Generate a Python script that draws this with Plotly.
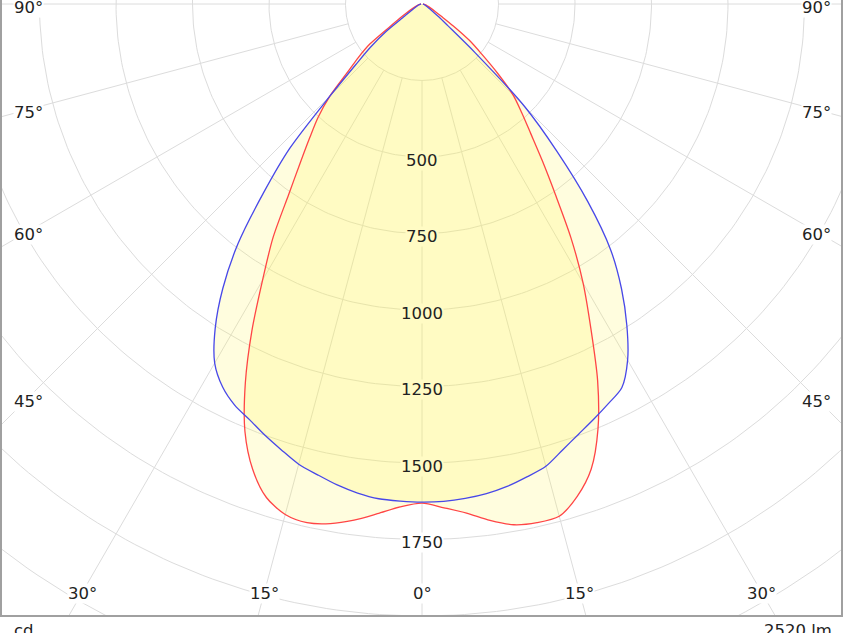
import numpy as np
import plotly.graph_objects as go

# ---------------- data (luminous intensity in cd vs. angle from nadir) ----------------
gamma_deg = [0, 2.5, 5, 7.5, 10, 12.5, 15, 17.5, 20, 22.5, 25, 27.5, 30, 32.5, 35,
             37.5, 40, 42.5, 45, 47.5, 50, 52.5, 55, 57.5, 60, 65, 70, 75, 80, 85, 90]

# C0 / C180 plane (red)
red_right = [1631, 1648, 1670, 1702, 1728, 1736, 1733, 1687, 1617, 1503, 1358, 1195, 1053, 906, 760,
             646, 553, 483, 422, 335, 255, 195, 125, 75, 52, 30, 18, 12, 8, 5, 3]
red_left = [1631, 1645, 1672, 1701, 1724, 1736, 1727, 1691, 1618, 1512, 1366, 1204, 1042, 907, 759,
            653, 571, 503, 425, 330, 271, 215, 125, 85, 60, 32, 20, 12, 8, 5, 3]
# C90 / C270 plane (blue)
blue_right = [1628, 1627, 1622, 1614, 1601, 1583, 1564, 1528, 1496, 1468, 1441, 1414, 1344, 1246, 1137,
              1013, 843, 652, 476, 235, 110, 70, 45, 32, 24, 15, 10, 7, 5, 4, 3]
blue_left = [1628, 1626, 1623, 1612, 1596, 1576, 1557, 1528, 1500, 1471, 1447, 1411, 1355, 1258, 1135,
             988, 806, 640, 425, 295, 220, 148, 70, 48, 34, 20, 16, 10, 6, 4, 3]

ring_values = [250, 500, 750, 1000, 1250, 1500, 1750, 2000, 2250, 2500]
ring_labels = [500, 750, 1000, 1250, 1500, 1750]
spoke_angles = [-90, -75, -60, -45, -30, -15, 0, 15, 30, 45, 60, 75, 90]
angle_label_values = [0, 15, 30, 45, 60, 75, 90]
flux_text = "2520 lm"
unit_text = "cd"

# ---------------- layout geometry ----------------
W, H = 844, 633
K = 0.306            # px per cd
OX, OY = 422, 4      # pole position in px
PL, PR, PT, PB = 2, 841, 0, 615   # plot area in px
x_range = [(PL - OX) / K, (PR - OX) / K]
y_range = [-(PB - OY) / K, (OY - PT) / K]

FONT = "Verdana, DejaVu Sans, sans-serif"
FS = 16.5
TXT = "#222222"
GRID = "#DCDCDC"
RED = "#FF4545"
BLUE = "#4848E8"
FILL = "rgba(255,245,80,0.19)"
WHITE = "#FFFFFF"


def curve_xy(left, right):
    ang = [-g for g in gamma_deg[::-1]] + gamma_deg[1:]
    val = list(left[::-1]) + list(right[1:])
    a = np.radians(ang)
    v = np.array(val, dtype=float)
    return v * np.sin(a), -v * np.cos(a)


fig = go.Figure()

# grid: rings
gx, gy = [], []
t = np.radians(np.arange(0, 361, 1))
for R in ring_values:
    gx += list(R * np.sin(t)) + [None]
    gy += list(-R * np.cos(t)) + [None]
# grid: spokes starting at the first ring
for s in spoke_angles:
    a = np.radians(s)
    r0, r1 = ring_values[0], 2700
    gx += [r0 * np.sin(a), r1 * np.sin(a), None]
    gy += [-r0 * np.cos(a), -r1 * np.cos(a), None]
fig.add_trace(go.Scatter(x=gx, y=gy, mode="lines", line=dict(color=GRID, width=1),
                         hoverinfo="skip", showlegend=False))

rx, ry = curve_xy(red_left, red_right)
bx, by = curve_xy(blue_left, blue_right)

# fills
for xx, yy in ((rx, ry), (bx, by)):
    fig.add_trace(go.Scatter(x=xx, y=yy, mode="lines", fill="toself", fillcolor=FILL,
                             line=dict(width=0, color="rgba(0,0,0,0)", shape="spline", smoothing=0.8),
                             hoverinfo="skip", showlegend=False))
# outlines
fig.add_trace(go.Scatter(x=rx, y=ry, mode="lines",
                         line=dict(color=RED, width=1.3, shape="spline", smoothing=0.8),
                         name="C0-C180", showlegend=False))
fig.add_trace(go.Scatter(x=bx, y=by, mode="lines",
                         line=dict(color=BLUE, width=1.3, shape="spline", smoothing=0.8),
                         name="C90-C270", showlegend=False))

annotations = []
# ring labels along 0 deg
lo = min(red_left[0], blue_left[0])
hi = max(red_left[0], blue_left[0])
for R in ring_labels:
    if R < lo:
        bg = "rgb(255,251,196)"
    elif R < hi:
        bg = "rgb(255,253,224)"
    else:
        bg = WHITE
    annotations.append(dict(x=0, y=-R, xref="x", yref="y", text=str(R), showarrow=False,
                            font=dict(family=FONT, size=FS, color=TXT), bgcolor=bg,
                            borderpad=0, xanchor="center", yanchor="middle", yshift=-3))

# angle labels where the spokes leave the frame
side_x = (OX - 28) / K
bottom_y = -(592 - OY) / K
for g in angle_label_values:
    a = np.radians(g)
    xb = abs(bottom_y) * np.tan(a) if g < 90 else np.inf
    for sgn in ([1] if g == 0 else [-1, 1]):
        if xb < side_x:
            px, py, ys = sgn * xb, bottom_y, -1
        else:
            px, py, ys = sgn * side_x, -side_x * np.cos(a) / np.sin(a), -3
        annotations.append(dict(x=px, y=py, xref="x", yref="y", text=f"{g}°", showarrow=False,
                                font=dict(family=FONT, size=FS, color=TXT), bgcolor=WHITE,
                                borderpad=0, xanchor="center", yanchor="middle", yshift=ys))

annotations.append(dict(x=0, y=0, xref="paper", yref="paper", text=unit_text, showarrow=False,
                        xanchor="left", yanchor="top", xshift=10, yshift=-4,
                        font=dict(family=FONT, size=FS, color=TXT)))
annotations.append(dict(x=1, y=0, xref="paper", yref="paper", text=flux_text, showarrow=False,
                        xanchor="right", yanchor="top", xshift=-7, yshift=-4,
                        font=dict(family=FONT, size=FS, color=TXT)))

fig.update_layout(
    width=W, height=H,
    margin=dict(l=PL, r=W - PR, t=PT, b=H - PB),
    paper_bgcolor=WHITE, plot_bgcolor=WHITE,
    xaxis=dict(range=x_range, showgrid=False, zeroline=False, showticklabels=False, ticks="",
               showline=True, linecolor="#A0A0A0", linewidth=2, mirror=False, fixedrange=True),
    yaxis=dict(range=y_range, showgrid=False, zeroline=False, showticklabels=False, ticks="",
               showline=True, linecolor="#A0A0A0", linewidth=2, mirror=True, fixedrange=True),
    annotations=annotations,
    showlegend=False,
)

fig.write_html("out.html")
